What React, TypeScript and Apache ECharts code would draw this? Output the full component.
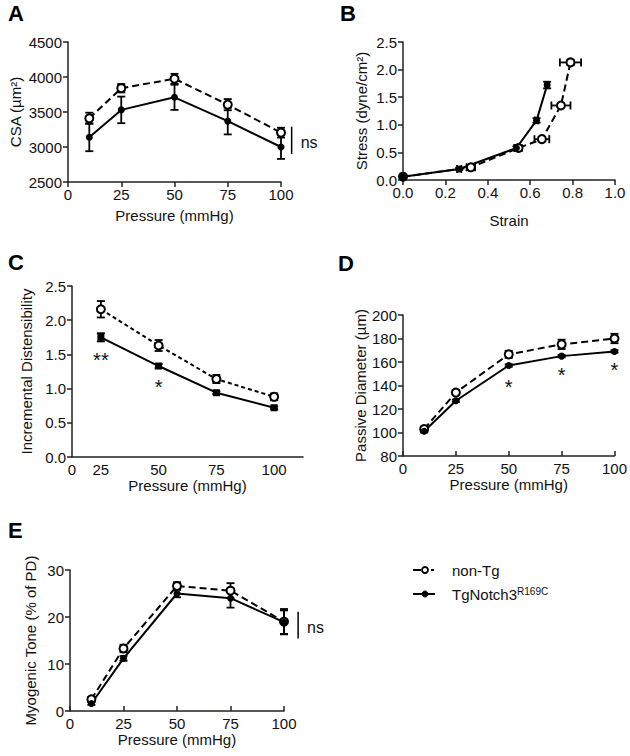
import React, { useEffect, useRef } from 'react';
import * as echarts from 'echarts';

// ---------- data ----------
const pressure5 = [10, 25, 50, 75, 100];
const pressure4 = [25, 50, 75, 100];

// A: CSA (µm²)
const csaNonTg = [3410, 3840, 3975, 3605, 3205];
const csaNonTgErr = [80, 60, 70, 80, 70];
const csaTg = [3140, 3530, 3710, 3370, 3000];
const csaTgErr = [200, 190, 180, 190, 170];

// B: stress-strain
const strainNonTg = [0, 0.32, 0.545, 0.655, 0.745, 0.79];
const strainNonTgErr = [0, 0.02, 0.015, 0.035, 0.045, 0.05];
const stressNonTg = [0.06, 0.23, 0.58, 0.74, 1.35, 2.13];
const stressNonTgErr = [0, 0.02, 0.02, 0.03, 0.03, 0.05];
const strainTg = [0, 0.265, 0.535, 0.63, 0.68];
const strainTgErr = [0, 0.01, 0.01, 0.008, 0.008];
const stressTg = [0.06, 0.2, 0.58, 1.08, 1.72];
const stressTgErr = [0, 0.02, 0.03, 0.04, 0.06];

// C: incremental distensibility
const distNonTg = [2.16, 1.63, 1.14, 0.88];
const distNonTgErr = [0.12, 0.08, 0.06, 0.05];
const distTg = [1.75, 1.33, 0.94, 0.72];
const distTgErr = [0.06, 0.03, 0.02, 0.02];

// D: passive diameter (µm)
const diamNonTg = [103, 134, 166.5, 175, 180];
const diamNonTgErr = [2, 2, 3, 4, 4];
const diamTg = [101, 127, 157, 165, 169];
const diamTgErr = [1, 1, 1, 1, 1];

// E: myogenic tone (% of PD)
const toneNonTg = [2.5, 13.3, 26.6, 25.6, 19.0];
const toneNonTgErr = [0.5, 0.8, 0.8, 1.6, 2.7];
const toneTg = [1.6, 11.2, 25.0, 24.0, 18.9];
const toneTgErr = [0.3, 0.5, 0.8, 2.0, 2.5];

// significance annotations [x, y, text]
const starsC = [[25, 1.42, '**'], [50, 1.03, '*']];
const starsD = [[50, 138.7, '*'], [75, 149, '*'], [100, 153, '*']];
// ns brackets [x, yLow, yHigh]
const nsA = [[105, 2900, 3290]];
const nsE = [[106.6, 15.4, 21.1]];

const seriesNames = ['non-Tg', 'TgNotch3'];

// ---------- styles ----------
const FONT = '"Liberation Sans", Arial, Helvetica, sans-serif';
const INK = '#111';
const AXIS = '#222';

const zip = (xs: number[], ys: number[]) => xs.map((x, i) => [x, ys[i]]);
const zip3 = (xs: number[], ys: number[], es: number[]) => xs.map((x, i) => [x, ys[i], es[i]]);

function lineSeries(idx: number, data: number[][], open: boolean, dash: number[] | 'solid', symbol = 'circle') {
  return {
    type: 'line',
    name: open ? seriesNames[0] : seriesNames[1],
    xAxisIndex: idx,
    yAxisIndex: idx,
    data,
    z: 4,
    symbol,
    symbolSize: open ? 8 : 7,
    showSymbol: true,
    lineStyle: { color: '#000', width: 2, type: dash },
    itemStyle: open
      ? { color: '#fff', borderColor: '#000', borderWidth: 2 }
      : { color: '#000', borderColor: '#000', borderWidth: 0 },
    emphasis: { disabled: true },
  };
}

function errSeries(idx: number, data: number[][]) {
  return {
    type: 'custom',
    xAxisIndex: idx,
    yAxisIndex: idx,
    z: 2,
    silent: true,
    encode: { x: 0, y: 1 },
    data,
    renderItem: (params: any, api: any) => {
      const x = api.value(0);
      const y = api.value(1);
      const e = api.value(2);
      const t = api.coord([x, y + e]);
      const b = api.coord([x, y - e]);
      const hw = 4;
      const st = { stroke: '#000', lineWidth: 1.8 };
      return {
        type: 'group',
        children: [
          { type: 'line', shape: { x1: t[0], y1: t[1], x2: b[0], y2: b[1] }, style: st },
          { type: 'line', shape: { x1: t[0] - hw, y1: t[1], x2: t[0] + hw, y2: t[1] }, style: st },
          { type: 'line', shape: { x1: b[0] - hw, y1: b[1], x2: b[0] + hw, y2: b[1] }, style: st },
        ],
      };
    },
  };
}

function xyErrSeries(idx: number, data: number[][]) {
  return {
    type: 'custom',
    xAxisIndex: idx,
    yAxisIndex: idx,
    z: 2,
    silent: true,
    encode: { x: 0, y: 1 },
    data,
    renderItem: (params: any, api: any) => {
      const x = api.value(0);
      const y = api.value(1);
      const xe = api.value(2);
      const ye = api.value(3);
      const st = { stroke: '#000', lineWidth: 1.8 };
      const hw = 4;
      const children: any[] = [];
      if (xe > 0) {
        const l = api.coord([x - xe, y]);
        const r = api.coord([x + xe, y]);
        children.push(
          { type: 'line', shape: { x1: l[0], y1: l[1], x2: r[0], y2: r[1] }, style: st },
          { type: 'line', shape: { x1: l[0], y1: l[1] - hw, x2: l[0], y2: l[1] + hw }, style: st },
          { type: 'line', shape: { x1: r[0], y1: r[1] - hw, x2: r[0], y2: r[1] + hw }, style: st }
        );
      }
      if (ye > 0) {
        const t = api.coord([x, y + ye]);
        const b = api.coord([x, y - ye]);
        children.push(
          { type: 'line', shape: { x1: t[0], y1: t[1], x2: b[0], y2: b[1] }, style: st },
          { type: 'line', shape: { x1: t[0] - hw, y1: t[1], x2: t[0] + hw, y2: t[1] }, style: st },
          { type: 'line', shape: { x1: b[0] - hw, y1: b[1], x2: b[0] + hw, y2: b[1] }, style: st }
        );
      }
      return { type: 'group', children };
    },
  };
}

function textSeries(idx: number, data: any[]) {
  return {
    type: 'custom',
    xAxisIndex: idx,
    yAxisIndex: idx,
    z: 5,
    silent: true,
    encode: { x: 0, y: 1 },
    data,
    renderItem: (params: any, api: any) => {
      const p = api.coord([api.value(0), api.value(1)]);
      return {
        type: 'text',
        x: p[0],
        y: p[1],
        style: { text: data[params.dataIndex][2], font: `20px ${FONT}`, fill: INK, align: 'center', verticalAlign: 'middle' },
      };
    },
  };
}

function nsSeries(idx: number, data: number[][]) {
  return {
    type: 'custom',
    xAxisIndex: idx,
    yAxisIndex: idx,
    z: 5,
    silent: true,
    encode: { x: 0, y: 1 },
    data,
    renderItem: (params: any, api: any) => {
      const lo = api.coord([api.value(0), api.value(1)]);
      const hi = api.coord([api.value(0), api.value(2)]);
      return {
        type: 'group',
        children: [
          { type: 'line', shape: { x1: lo[0], y1: lo[1], x2: hi[0], y2: hi[1] }, style: { stroke: '#000', lineWidth: 1.5 } },
          {
            type: 'text',
            x: lo[0] + 9,
            y: (lo[1] + hi[1]) / 2 + 2,
            style: { text: 'ns', font: `16px ${FONT}`, fill: INK, align: 'left', verticalAlign: 'middle' },
          },
        ],
      };
    },
  };
}

const labelStyle = { color: INK, fontSize: 15, fontFamily: FONT };
const nameStyle = { color: INK, fontSize: 15, fontFamily: FONT };

function xAxis(idx: number, o: any) {
  return {
    type: 'value',
    gridIndex: idx,
    min: o.min,
    max: o.max,
    interval: o.interval,
    name: o.name,
    nameLocation: 'middle',
    nameGap: o.nameGap,
    nameTextStyle: nameStyle,
    axisLine: { show: true, onZero: false, lineStyle: { color: AXIS, width: 1.5 } },
    axisTick: { show: o.ticks !== false, inside: !!o.inside, length: 5, lineStyle: { color: AXIS, width: 1.5 } },
    axisLabel: { ...labelStyle, margin: 5, showMinLabel: true, showMaxLabel: true, formatter: o.formatter || ((v: number) => String(v)) },
    splitLine: { show: false },
  };
}

function yAxis(idx: number, o: any) {
  return {
    type: 'value',
    gridIndex: idx,
    min: o.min,
    max: o.max,
    interval: o.interval,
    name: o.name,
    nameLocation: 'middle',
    nameGap: o.nameGap,
    nameTextStyle: nameStyle,
    axisLine: { show: true, onZero: false, lineStyle: { color: AXIS, width: 1.5 } },
    axisTick: { show: true, length: 5, lineStyle: { color: AXIS, width: 1.5 } },
    axisLabel: { ...labelStyle, margin: 6, formatter: o.formatter || ((v: number) => String(v)) },
    splitLine: { show: false },
  };
}

const fix1 = (v: number) => v.toFixed(1);

const panelLetter = (t: string, x: number, y: number) => ({
  type: 'text',
  x,
  y,
  style: { text: t, font: `bold 22px ${FONT}`, fill: '#000', align: 'left', verticalAlign: 'middle' },
});

const option: any = {
  animation: false,
  backgroundColor: '#fff',
  grid: [
    { left: 68, top: 42, width: 213, height: 140 },
    { left: 403, top: 42, width: 212, height: 138 },
    { left: 72, top: 286, width: 231, height: 171 },
    { left: 403, top: 315, width: 212, height: 141 },
    { left: 70, top: 570, width: 214, height: 141 },
  ],
  xAxis: [
    xAxis(0, { min: 0, max: 100, interval: 25, name: 'Pressure (mmHg)', nameGap: 26 }),
    xAxis(1, { min: 0, max: 1, interval: 0.2, name: 'Strain', nameGap: 33, formatter: fix1 }),
    xAxis(2, {
      min: 12.5, max: 112.5, interval: 12.5, name: 'Pressure (mmHg)', nameGap: 21, ticks: false,
      formatter: (v: number) => (v === 12.5 ? '0' : v % 25 === 0 && v <= 100 ? String(v) : ''),
    }),
    xAxis(3, { min: 0, max: 100, interval: 25, name: 'Pressure (mmHg)', nameGap: 21, inside: true }),
    xAxis(4, { min: 0, max: 100, interval: 25, name: 'Pressure (mmHg)', nameGap: 18, inside: true }),
  ],
  yAxis: [
    yAxis(0, { min: 2500, max: 4500, interval: 500, name: 'CSA (µm²)', nameGap: 45 }),
    yAxis(1, { min: 0, max: 2.5, interval: 0.5, name: 'Stress (dyne/cm²)', nameGap: 34, formatter: fix1 }),
    yAxis(2, { min: 0, max: 2.5, interval: 0.5, name: 'Incremental Distensibility', nameGap: 38, formatter: fix1 }),
    yAxis(3, { min: 80, max: 200, interval: 20, name: 'Passive Diameter (µm)', nameGap: 35 }),
    yAxis(4, { min: 0, max: 30, interval: 10, name: 'Myogenic Tone (% of PD)', nameGap: 32 }),
  ],
  series: [
    // A
    errSeries(0, zip3(pressure5, csaNonTg, csaNonTgErr)),
    errSeries(0, zip3(pressure5, csaTg, csaTgErr)),
    lineSeries(0, zip(pressure5, csaNonTg), true, [7, 4]),
    lineSeries(0, zip(pressure5, csaTg), false, 'solid'),
    nsSeries(0, nsA),
    // B
    xyErrSeries(1, strainNonTg.map((x, i) => [x, stressNonTg[i], strainNonTgErr[i], stressNonTgErr[i]])),
    xyErrSeries(1, strainTg.map((x, i) => [x, stressTg[i], strainTgErr[i], stressTgErr[i]])),
    lineSeries(1, zip(strainNonTg, stressNonTg), true, [7, 4]),
    lineSeries(1, zip(strainTg, stressTg), false, 'solid'),
    // C
    errSeries(2, zip3(pressure4, distNonTg, distNonTgErr)),
    errSeries(2, zip3(pressure4, distTg, distTgErr)),
    lineSeries(2, zip(pressure4, distNonTg), true, [4, 3]),
    lineSeries(2, zip(pressure4, distTg), false, 'solid', 'rect'),
    textSeries(2, starsC),
    // D
    errSeries(3, zip3(pressure5, diamNonTg, diamNonTgErr)),
    errSeries(3, zip3(pressure5, diamTg, diamTgErr)),
    lineSeries(3, zip(pressure5, diamNonTg), true, [7, 4]),
    lineSeries(3, zip(pressure5, diamTg), false, 'solid'),
    textSeries(3, starsD),
    // E
    errSeries(4, zip3(pressure5, toneNonTg, toneNonTgErr)),
    errSeries(4, zip3(pressure5, toneTg, toneTgErr)),
    lineSeries(4, zip(pressure5, toneNonTg), true, [7, 4]),
    lineSeries(4, zip(pressure5, toneTg), false, 'solid'),
    nsSeries(4, nsE),
  ],
  graphic: [
    panelLetter('A', 8, 13),
    panelLetter('B', 340, 13),
    panelLetter('C', 8, 262),
    panelLetter('D', 338, 263),
    panelLetter('E', 8, 530),
    // legend
    { type: 'line', shape: { x1: 413, y1: 570, x2: 421, y2: 570 }, style: { stroke: '#000', lineWidth: 2 } },
    { type: 'circle', shape: { cx: 425, cy: 570, r: 3 }, style: { fill: '#fff', stroke: '#000', lineWidth: 1.8 } },
    { type: 'line', shape: { x1: 431, y1: 570, x2: 434, y2: 570 }, style: { stroke: '#000', lineWidth: 2 } },
    { type: 'text', x: 452, y: 570, style: { text: 'non-Tg', font: `15px ${FONT}`, fill: INK, align: 'left', verticalAlign: 'middle' } },
    { type: 'line', shape: { x1: 413, y1: 594, x2: 435, y2: 594 }, style: { stroke: '#000', lineWidth: 2 } },
    { type: 'circle', shape: { cx: 425, cy: 594, r: 3 }, style: { fill: '#000', stroke: '#000', lineWidth: 1 } },
    {
      type: 'text',
      x: 452,
      y: 594,
      style: {
        text: 'TgNotch3{sup|R169C}',
        font: `15px ${FONT}`,
        fill: INK,
        align: 'left',
        verticalAlign: 'middle',
        rich: { sup: { fontSize: 10, fontFamily: FONT, fill: INK, verticalAlign: 'top', padding: [0, 0, 6, 0] } },
      },
    },
  ],
};

export default function App() {
  const ref = useRef<HTMLDivElement>(null);
  useEffect(() => {
    if (!ref.current) return;
    const chart = echarts.init(ref.current, null, { renderer: 'svg', width: 630, height: 756 });
    chart.setOption(option);
    return () => chart.dispose();
  }, []);
  return (
    <div
      ref={ref}
      style={{ position: 'absolute', left: 0, top: 0, width: 630, height: 756, background: '#fff' }}
    />
  );
}
